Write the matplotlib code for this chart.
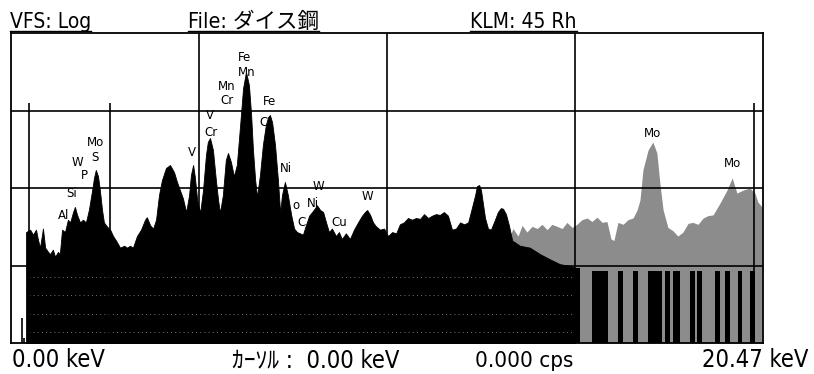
import matplotlib
matplotlib.use("Agg")
import matplotlib.pyplot as plt
from matplotlib.lines import Line2D

# ---------------- datos del espectro (keV, cps) ----------------
# espectro principal (negro)
energia_negro = [0.41, 0.52, 0.60, 0.68, 0.74, 0.79, 0.87, 0.93, 1.01, 1.06, 1.14, 1.20, 1.28, 1.33,
                 1.39, 1.47, 1.55, 1.61, 1.69, 1.74, 1.80, 1.88, 1.96, 2.04, 2.12, 2.21, 2.26, 2.31,
                 2.37, 2.42, 2.48, 2.53, 2.61, 2.70, 2.78, 2.86, 2.97, 3.08, 3.16, 3.24, 3.32, 3.43,
                 3.54, 3.65, 3.70, 3.79, 3.87, 3.95, 4.03, 4.11, 4.22, 4.33, 4.44, 4.52, 4.60, 4.68,
                 4.77, 4.85, 4.90, 4.96, 5.01, 5.07, 5.15, 5.23, 5.31, 5.36, 5.42, 5.50, 5.58, 5.64,
                 5.69, 5.77, 5.85, 5.91, 5.99, 6.07, 6.15, 6.24, 6.32, 6.40, 6.48, 6.54, 6.59, 6.65,
                 6.70, 6.78, 6.86, 6.94, 7.00, 7.05, 7.11, 7.19, 7.27, 7.33, 7.38, 7.46, 7.54, 7.63,
                 7.71, 7.79, 7.87, 7.95, 8.03, 8.12, 8.20, 8.28, 8.33, 8.42, 8.50, 8.58, 8.66, 8.74,
                 8.85, 8.93, 9.01, 9.12, 9.23, 9.34, 9.45, 9.56, 9.64, 9.70, 9.78, 9.86, 9.94, 10.05,
                 10.16, 10.27, 10.38, 10.49, 10.59, 10.70, 10.81, 10.92, 11.03, 11.14, 11.25, 11.36,
                 11.47, 11.57, 11.68, 11.79, 11.90, 12.01, 12.12, 12.23, 12.34, 12.45, 12.55, 12.64,
                 12.69, 12.75, 12.80, 12.85, 12.91, 12.99, 13.07, 13.18, 13.26, 13.34, 13.40, 13.48,
                 13.56, 13.65, 13.86, 14.13, 14.41, 14.68, 14.95, 15.22, 15.36]
cuentas_negro = [27, 29, 25, 29, 21, 17, 30, 17, 15, 14, 16, 13, 15, 14,
                 29, 27, 39, 36, 49, 57, 45, 36, 39, 36, 52, 94, 135, 171,
                 142, 94, 52, 36, 32, 29, 24, 21, 17, 18, 17, 18, 17, 24,
                 29, 39, 42, 33, 30, 39, 81, 126, 181, 198, 160, 120, 94, 74,
                 49, 81, 147, 198, 135, 70, 48, 94, 268, 392, 442, 309, 126, 70,
                 48, 81, 230, 283, 216, 142, 198, 650, 1940, 3140, 2130, 875, 309, 126,
                 77, 147, 360, 650, 820, 875, 710, 360, 126, 48, 81, 120, 81, 45,
                 30, 27, 26, 25, 33, 44, 49, 55, 60, 52, 49, 36, 27, 30,
                 24, 27, 22, 26, 22, 29, 36, 44, 49, 52, 45, 36, 32, 29,
                 30, 24, 27, 26, 34, 36, 41, 39, 41, 40, 46, 41,
                 44, 46, 45, 49, 44, 29, 30, 36, 34, 36, 55, 81,
                 106, 109, 94, 64, 41, 30, 29, 39, 49, 55, 54, 46,
                 33, 21, 18, 17, 14, 12, 10.4, 9.9, 9.3]

# espectro superpuesto (trama gris)
energia_gris = [13.54, 13.67, 13.81, 13.92, 14.05, 14.19, 14.33, 14.46, 14.60, 14.73, 14.87, 15.01,
                15.14, 15.28, 15.41, 15.55, 15.69, 15.82, 15.96, 16.10, 16.23, 16.34, 16.42, 16.53,
                16.67, 16.80, 16.94, 17.05, 17.13, 17.21, 17.35, 17.48, 17.59, 17.67, 17.76, 17.89,
                18.03, 18.16, 18.30, 18.44, 18.57, 18.71, 18.85, 18.98, 19.12, 19.31, 19.50, 19.64,
                19.77, 19.94, 20.12, 20.26, 20.34, 20.45]
cuentas_gris = [21, 30, 24, 33, 27, 32, 30, 34, 29, 34, 32, 30,
                36, 31, 34, 39, 41, 37, 42, 36, 37, 22, 21, 36,
                34, 39, 41, 52, 70, 171, 309, 392, 283, 117, 52, 31,
                28, 24, 27, 35, 36, 34, 41, 44, 45, 64, 94, 135,
                86, 94, 100, 86, 66, 57]

# franjas negras dentro de la zona gris
franja_ini = [15.36, 15.82, 16.53, 16.94, 17.35, 17.81, 18.03, 18.49, 18.68, 19.17, 19.45, 19.80, 20.12]
franja_fin = [15.50, 16.26, 16.67, 17.07, 17.73, 17.95, 18.22, 18.63, 18.82, 19.31, 19.58, 19.91, 20.26]
franja_cps = [9.3, 8.5, 8.5, 8.5, 8.5, 8.5, 8.5, 8.5, 8.5, 8.5, 8.5, 8.5, 8.5]

# picos aislados al inicio
pico_e = [0.30, 0.35]
pico_c = [2.1, 1.16]

# marcadores verticales
marcas_e = [0.49, 2.70, 20.23]
marca_top = 1250

# etiquetas de elementos
etiquetas = ['Fe', 'Mn', 'Mn', 'Cr', 'V', 'Cr', 'Fe', 'C', 'V', 'Ni', 'W', 'o', 'Ni', 'C', 'Cu', 'W',
             'Mo', 'S', 'W', 'P', 'Si', 'Al', 'Mo', 'Mo']
etq_e = [6.37, 6.43, 5.88, 5.88, 5.42, 5.45, 7.05, 6.89, 4.93, 7.49, 8.36, 7.76, 8.22, 7.92, 8.93, 9.70,
         2.31, 2.29, 1.80, 1.99, 1.66, 1.42, 17.48, 19.66]
etq_c = [4900, 3050, 2070, 1330, 850, 513, 1290, 690, 291, 181, 106, 60, 64, 36, 36, 77,
         392, 251, 216, 143, 86, 44, 498, 210]

lineas_punteadas = [1.39, 2.4, 4.2, 7.1]

W, H = 814, 374
fig = plt.figure(figsize=(W / 100, H / 100), dpi=100)
fig.patch.set_facecolor('white')
ax = fig.add_axes([11 / W, 31 / H, 752 / W, 310 / H])
ax.set_yscale('log')
ax.set_xlim(0, 20.48)
ax.set_ylim(1, 1e4)
ax.set_xticks([])
ax.set_yticks([])
ax.minorticks_off()
for s in ax.spines.values():
    s.set_linewidth(1.3)
    s.set_zorder(10)

ax.fill_between(energia_gris, 1, cuentas_gris, color='#8c8c8c', lw=0, zorder=2)
ax.fill_between(energia_negro, 1, cuentas_negro, color='black', lw=0.6, edgecolor='black', zorder=3)
for a, b, c in zip(franja_ini, franja_fin, franja_cps):
    ax.fill_between([a, b], 1, [c, c], color='black', lw=0, zorder=3)
ax.vlines(pico_e, 1, pico_c, color='black', lw=1.2, zorder=3)

for c in lineas_punteadas:
    ax.plot([0.5, 15.3], [c, c], color='white', lw=0.6, ls=(0, (1, 4)), alpha=0.6, zorder=3.5)

for x in [5.12, 10.24, 15.36]:
    ax.axvline(x, color='black', lw=1.2, zorder=4)
for y in [10, 100, 1000]:
    ax.axhline(y, color='black', lw=1.2, zorder=4)
ax.vlines(marcas_e, 1, marca_top, color='black', lw=1.2, zorder=4)

for t, e, c in zip(etiquetas, etq_e, etq_c):
    ax.text(e, c, t, ha='center', va='center', fontsize=8.5, family='DejaVu Sans', zorder=6)

# ---------------- textos de cabecera y pie ----------------
fuente = ['DejaVu Sans', 'Noto Sans CJK JP']

def texto(x, y, s, size, ha='left', stretch='condensed'):
    return fig.text(x / W, 1 - y / H, s, fontsize=size, family=fuente, fontstretch=stretch,
                    ha=ha, va='baseline')

cabecera = [texto(10, 28, 'VFS: Log', 15),
            texto(188, 28, 'File: ダイス鋼', 15.5),
            texto(470, 28, 'KLM: 45 Rh', 15)]

texto(12, 367, '0.00 keV', 17)
texto(232, 367, 'ｶｰｿﾙ :  0.00 keV', 17)
texto(475, 367, '0.000 cps', 16)
texto(808, 367, '20.47 keV', 17, ha='right')

# subrayado de la cabecera a lo ancho de cada texto
fig.canvas.draw()
rend = fig.canvas.get_renderer()
for t in cabecera:
    bb = t.get_window_extent(rend)
    fig.add_artist(Line2D([bb.x0 / W, bb.x1 / W], [1 - 31 / H, 1 - 31 / H], color='black', lw=1.0))

fig.savefig('out.png', dpi=100)
